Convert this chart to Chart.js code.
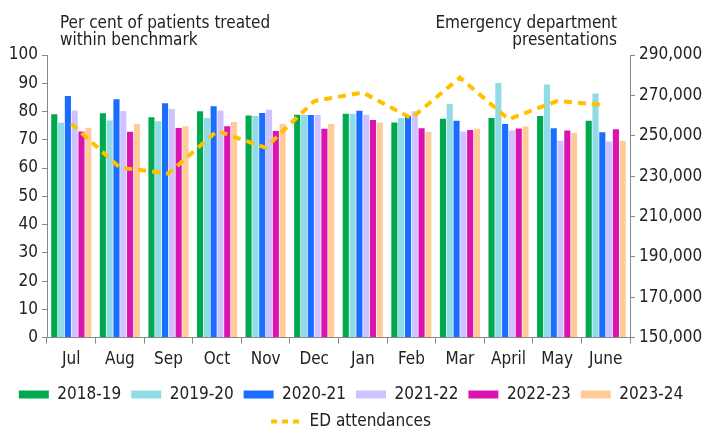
<!DOCTYPE html>
<html>
<head>
<meta charset="utf-8">
<script src="https://cdn.jsdelivr.net/npm/chart.js@4.4.0/dist/chart.umd.min.js"></script>
<style>
  html, body { margin: 0; padding: 0; background: #fff; overflow: hidden; }
  #contenedor { width: 702px; height: 440px; position: relative; }
</style>
</head>
<body>
<div id="contenedor"><canvas id="grafico"></canvas></div>
<script>
const meses = ['Jul', 'Aug', 'Sep', 'Oct', 'Nov', 'Dec', 'Jan', 'Feb', 'Mar', 'April', 'May', 'June'];

// per cent treated within benchmark, por año financiero
const anio2018 = [79.0, 79.4, 78.0, 80.1, 78.6, 78.9, 79.2, 76.1, 77.4, 77.7, 78.4, 76.7];
const anio2019 = [76.0, 76.8, 76.6, 77.7, 78.4, 78.9, 79.2, 77.7, 82.7, 90.1, 89.6, 86.4];
const anio2020 = [85.5, 84.3, 82.9, 81.9, 79.5, 78.8, 80.3, 78.4, 76.7, 75.6, 74.1, 72.7];
const anio2021 = [80.4, 80.2, 80.9, 80.4, 80.6, 78.8, 78.9, 80.1, 72.9, 73.3, 69.7, 69.4];
const anio2022 = [72.9, 72.8, 74.2, 74.8, 73.1, 73.9, 77.0, 74.1, 73.5, 74.0, 73.3, 73.7];
const anio2023 = [74.3, 75.6, 74.8, 76.3, 75.6, 75.6, 76.1, 72.8, 73.9, 74.7, 72.5, 69.7];

// presentaciones en urgencias (eje derecho)
const atenciones = [256000, 234200, 231300, 252400, 244100, 267200, 271400, 258700, 278800, 258200, 267200, 265100];

const etiquetasAnios = ['2018-19', '2019-20', '2020-21', '2021-22', '2022-23', '2023-24'];
const colores = ['#00A84F', '#8FDCE6', '#1A6EFF', '#CFC3FF', '#D914B0', '#FFCC99'];

const fuente = "'Liberation Sans Narrow', 'DejaVu Sans Condensed', 'Roboto Condensed', sans-serif";
const colorTexto = '#222';
const colorEje = '#888';

const titulosEjes = {
    id: 'titulosEjes',
    afterDraw(chart) {
        const ctx = chart.ctx;
        ctx.save();
        ctx.font = '17px ' + fuente;
        ctx.fillStyle = colorTexto;
        ctx.textBaseline = 'alphabetic';
        ctx.textAlign = 'left';
        ctx.fillText('Per cent of patients treated', 60, 28);
        ctx.fillText('within benchmark', 60, 45);
        ctx.textAlign = 'right';
        ctx.fillText('Emergency department', 617, 28);
        ctx.fillText('presentations', 617, 45);
        ctx.restore();
    }
};

let datasets = [];
const series = [anio2018, anio2019, anio2020, anio2021, anio2022, anio2023];
for (let i = 0; i < series.length; ++i) {
    datasets.push({
        type: 'bar',
        label: etiquetasAnios[i],
        data: series[i],
        backgroundColor: colores[i],
        borderWidth: 0,
        yAxisID: 'y',
        pointStyle: 'rect',
        barPercentage: 0.9,
        categoryPercentage: 0.84,
        order: 2
    });
}
datasets.push({
    type: 'line',
    label: 'ED attendances',
    data: atenciones,
    borderColor: '#FFC000',
    backgroundColor: '#FFC000',
    borderWidth: 4,
    borderDash: [8, 6],
    pointRadius: 0,
    pointStyle: 'line',
    tension: 0,
    yAxisID: 'y2',
    order: 1
});

function generarEtiquetas(chart) {
    let items = Chart.defaults.plugins.legend.labels.generateLabels(chart);
    items.sort((a, b) => a.datasetIndex - b.datasetIndex);
    for (let item of items) {
        if (item.pointStyle == 'line') {
            item.lineDash = [6, 5];
            item.lineWidth = 4;
        }
    }
    return items;
}

Chart.defaults.font.family = fuente;
Chart.defaults.font.size = 17;
Chart.defaults.color = colorTexto;

new Chart(document.getElementById('grafico').getContext('2d'), {
    data: { labels: meses, datasets: datasets },
    options: {
        responsive: true,
        maintainAspectRatio: false,
        animation: false,
        layout: { padding: { top: 55, left: 0, right: 0, bottom: 0 } },
        plugins: {
            legend: {
                position: 'bottom',
                labels: {
                    usePointStyle: true,
                    pointStyleWidth: 30,
                    boxHeight: 8,
                    padding: 10,
                    color: colorTexto,
                    font: { size: 17 },
                    generateLabels: generarEtiquetas
                }
            },
            tooltip: { enabled: false }
        },
        scales: {
            x: {
                grid: { offset: true, drawOnChartArea: false, tickLength: 6, color: colorEje },
                border: { color: colorEje },
                ticks: { padding: 6, color: colorTexto }
            },
            y: {
                position: 'left',
                min: 0,
                max: 100,
                ticks: { stepSize: 10, padding: 4, color: colorTexto },
                grid: { drawOnChartArea: false, tickLength: 5, color: colorEje },
                border: { color: colorEje },
                afterFit(escala) { escala.width = 47; }
            },
            y2: {
                position: 'right',
                min: 150000,
                max: 290000,
                ticks: {
                    stepSize: 20000,
                    padding: 4,
                    color: colorTexto,
                    callback: v => v.toLocaleString('en-US')
                },
                grid: { drawOnChartArea: false, tickLength: 5, color: colorEje },
                border: { color: colorEje },
                afterFit(escala) { escala.width = 72; }
            }
        }
    },
    plugins: [titulosEjes]
});
</script>
</body>
</html>
